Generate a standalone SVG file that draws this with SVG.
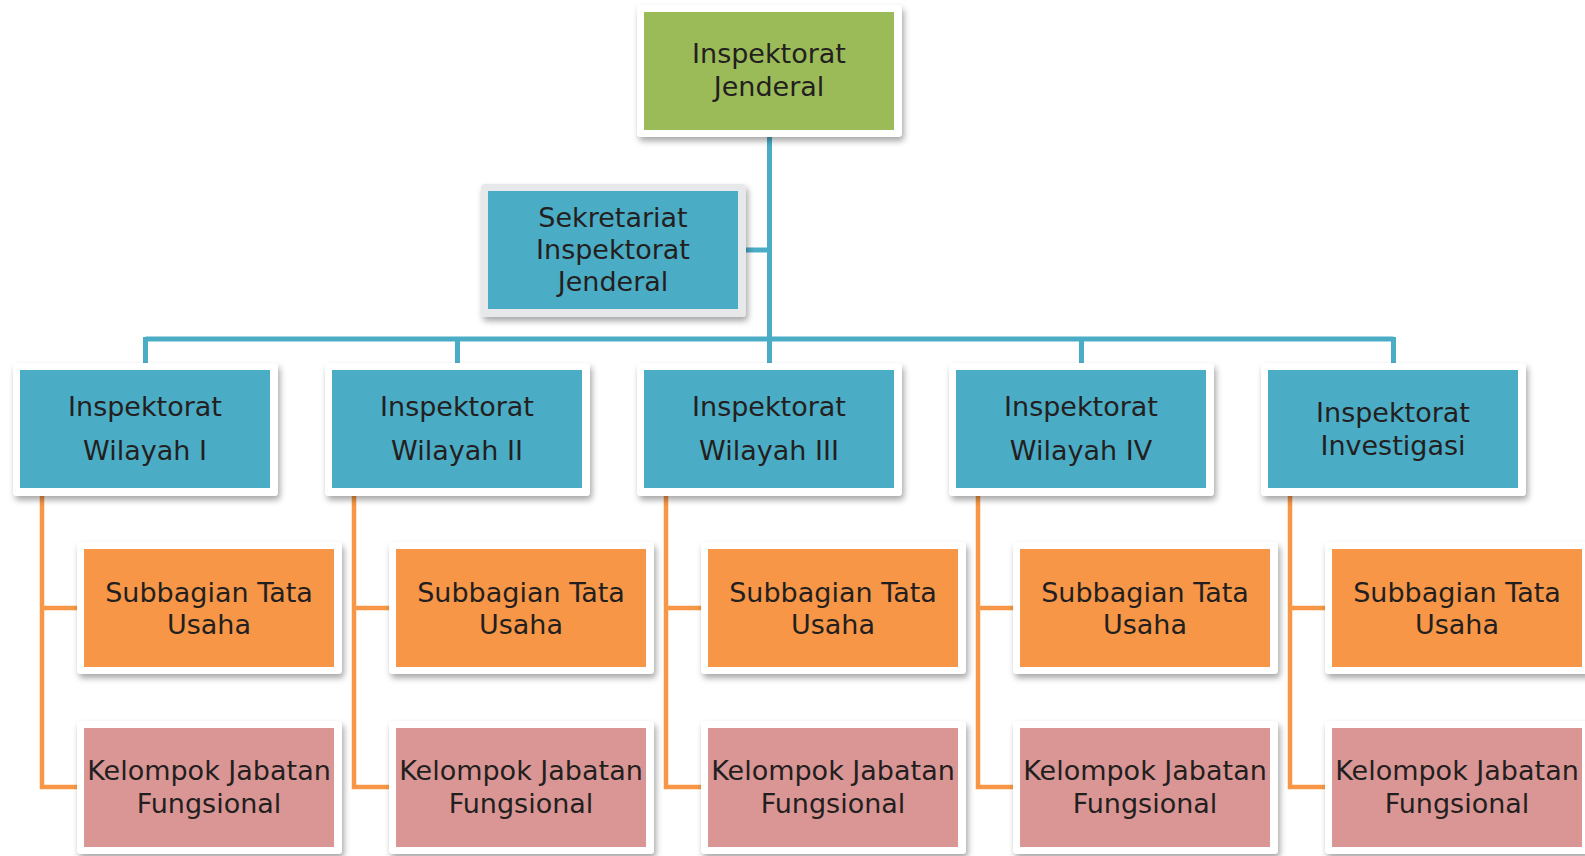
<svg xmlns="http://www.w3.org/2000/svg" width="1585" height="856" viewBox="0 0 1585 856">
<defs>
<filter id="sh" x="-10%" y="-10%" width="125%" height="130%">
<feDropShadow dx="2" dy="4" stdDeviation="3" flood-color="#000" flood-opacity="0.35"/>
</filter>
<style>
.frame{fill:#ffffff;filter:url(#sh)}
.gframe{fill:#e7e8e9;filter:url(#sh)}
.green{fill:#9bbb59}
.blue{fill:#4bacc6}
.orange{fill:#f79646}
.pink{fill:#d99694}
.t{font-family:"DejaVu Sans",Verdana,sans-serif;font-size:27px;fill:#231f20;text-anchor:middle}
.bl{stroke:#4bacc6;stroke-width:5;fill:none}
.ol{stroke:#f79646;stroke-width:4.5;fill:none}
</style>
</defs>
<rect width="1585" height="856" fill="#ffffff"/>
<g id="connectors">
<path class="bl" d="M769.5 137 V339 M746 250 H769.5 M145.5 339 H1393.5 M145.5 337 V363 M457.5 339 V363 M769.5 339 V363 M1081.5 339 V363 M1393.5 337 V363"/>
<path class="ol" d="M42 496 V787 H77 M42 608 H77"/>
<path class="ol" d="M354 496 V787 H389 M354 608 H389"/>
<path class="ol" d="M666 496 V787 H701 M666 608 H701"/>
<path class="ol" d="M978 496 V787 H1013 M978 608 H1013"/>
<path class="ol" d="M1290 496 V787 H1325 M1290 608 H1325"/>
</g>
<g id="n-ij">
<rect class="frame" x="637" y="5" width="265" height="132" rx="4"/>
<rect class="green" x="644" y="12" width="250" height="118"/>
<text class="t" x="769" y="63">Inspektorat</text>
<text class="t" x="769" y="96">Jenderal</text>
</g>
<g id="n-sek">
<rect class="gframe" x="481" y="184" width="265" height="133" rx="4"/>
<rect class="blue" x="488" y="191" width="250" height="118"/>
<text class="t" x="613" y="227">Sekretariat</text>
<text class="t" x="613" y="259">Inspektorat</text>
<text class="t" x="613" y="291">Jenderal</text>
</g>
<g id="n-w1">
<rect class="frame" x="13" y="363" width="265" height="133" rx="4"/>
<rect class="blue" x="20" y="370" width="250" height="118"/>
<text class="t" x="145" y="416">Inspektorat</text>
<text class="t" x="145" y="460">Wilayah I</text>
</g>
<g id="n-w2">
<rect class="frame" x="325" y="363" width="265" height="133" rx="4"/>
<rect class="blue" x="332" y="370" width="250" height="118"/>
<text class="t" x="457" y="416">Inspektorat</text>
<text class="t" x="457" y="460">Wilayah II</text>
</g>
<g id="n-w3">
<rect class="frame" x="637" y="363" width="265" height="133" rx="4"/>
<rect class="blue" x="644" y="370" width="250" height="118"/>
<text class="t" x="769" y="416">Inspektorat</text>
<text class="t" x="769" y="460">Wilayah III</text>
</g>
<g id="n-w4">
<rect class="frame" x="949" y="363" width="265" height="133" rx="4"/>
<rect class="blue" x="956" y="370" width="250" height="118"/>
<text class="t" x="1081" y="416">Inspektorat</text>
<text class="t" x="1081" y="460">Wilayah IV</text>
</g>
<g id="n-inv">
<rect class="frame" x="1261" y="363" width="265" height="133" rx="4"/>
<rect class="blue" x="1268" y="370" width="250" height="118"/>
<text class="t" x="1393" y="422">Inspektorat</text>
<text class="t" x="1393" y="455">Investigasi</text>
</g>
<g id="n-s1">
<rect class="frame" x="77" y="542" width="265" height="132" rx="4"/>
<rect class="orange" x="84" y="549" width="250" height="118"/>
<text class="t" x="209" y="602">Subbagian Tata</text>
<text class="t" x="209" y="634">Usaha</text>
</g>
<g id="n-s2">
<rect class="frame" x="389" y="542" width="265" height="132" rx="4"/>
<rect class="orange" x="396" y="549" width="250" height="118"/>
<text class="t" x="521" y="602">Subbagian Tata</text>
<text class="t" x="521" y="634">Usaha</text>
</g>
<g id="n-s3">
<rect class="frame" x="701" y="542" width="265" height="132" rx="4"/>
<rect class="orange" x="708" y="549" width="250" height="118"/>
<text class="t" x="833" y="602">Subbagian Tata</text>
<text class="t" x="833" y="634">Usaha</text>
</g>
<g id="n-s4">
<rect class="frame" x="1013" y="542" width="265" height="132" rx="4"/>
<rect class="orange" x="1020" y="549" width="250" height="118"/>
<text class="t" x="1145" y="602">Subbagian Tata</text>
<text class="t" x="1145" y="634">Usaha</text>
</g>
<g id="n-s5">
<rect class="frame" x="1325" y="542" width="265" height="132" rx="4"/>
<rect class="orange" x="1332" y="549" width="250" height="118"/>
<text class="t" x="1457" y="602">Subbagian Tata</text>
<text class="t" x="1457" y="634">Usaha</text>
</g>
<g id="n-k1">
<rect class="frame" x="77" y="721" width="265" height="133" rx="4"/>
<rect class="pink" x="84" y="728" width="250" height="119"/>
<text class="t" x="209" y="780">Kelompok Jabatan</text>
<text class="t" x="209" y="813">Fungsional</text>
</g>
<g id="n-k2">
<rect class="frame" x="389" y="721" width="265" height="133" rx="4"/>
<rect class="pink" x="396" y="728" width="250" height="119"/>
<text class="t" x="521" y="780">Kelompok Jabatan</text>
<text class="t" x="521" y="813">Fungsional</text>
</g>
<g id="n-k3">
<rect class="frame" x="701" y="721" width="265" height="133" rx="4"/>
<rect class="pink" x="708" y="728" width="250" height="119"/>
<text class="t" x="833" y="780">Kelompok Jabatan</text>
<text class="t" x="833" y="813">Fungsional</text>
</g>
<g id="n-k4">
<rect class="frame" x="1013" y="721" width="265" height="133" rx="4"/>
<rect class="pink" x="1020" y="728" width="250" height="119"/>
<text class="t" x="1145" y="780">Kelompok Jabatan</text>
<text class="t" x="1145" y="813">Fungsional</text>
</g>
<g id="n-k5">
<rect class="frame" x="1325" y="721" width="265" height="133" rx="4"/>
<rect class="pink" x="1332" y="728" width="250" height="119"/>
<text class="t" x="1457" y="780">Kelompok Jabatan</text>
<text class="t" x="1457" y="813">Fungsional</text>
</g>
</svg>
